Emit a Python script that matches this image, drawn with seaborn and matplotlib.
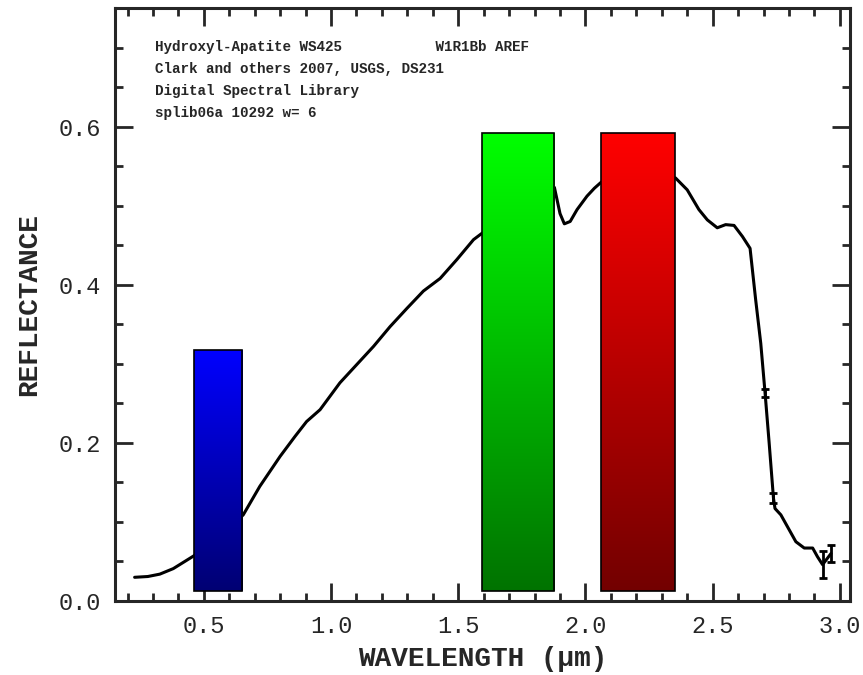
import numpy as np
import matplotlib
matplotlib.use('Agg')
import matplotlib.pyplot as plt
import seaborn as sns

# spectrum (wavelength in um, reflectance)
wave = [0.228, 0.28, 0.327, 0.38, 0.43, 0.46, 0.50, 0.55, 0.60, 0.655,
        0.72, 0.80, 0.858, 0.904, 0.957, 1.035, 1.101, 1.167, 1.232, 1.298,
        1.363, 1.429, 1.495, 1.560, 1.593, 1.65, 1.70, 1.75, 1.80, 1.85,
        1.878, 1.90, 1.917, 1.94, 1.967, 2.006, 2.035, 2.063, 2.12, 2.18,
        2.24, 2.30, 2.354, 2.40, 2.446, 2.479, 2.518, 2.551, 2.584, 2.617,
        2.647, 2.669, 2.689, 2.706, 2.722, 2.739, 2.745, 2.768, 2.794, 2.827,
        2.860, 2.893, 2.912, 2.932, 2.965]
refl = [0.030, 0.031, 0.034, 0.041, 0.051, 0.057, 0.066, 0.078, 0.092, 0.109,
        0.145, 0.183, 0.208, 0.227, 0.242, 0.276, 0.299, 0.322, 0.347, 0.370,
        0.392, 0.408, 0.432, 0.457, 0.465, 0.478, 0.490, 0.502, 0.512, 0.520,
        0.523, 0.490, 0.477, 0.480, 0.495, 0.512, 0.522, 0.530, 0.538, 0.542,
        0.542, 0.540, 0.535, 0.520, 0.495, 0.482, 0.472, 0.476, 0.475, 0.461,
        0.446, 0.381, 0.326, 0.263, 0.200, 0.130, 0.117, 0.109, 0.094, 0.075,
        0.067, 0.067, 0.056, 0.046, 0.060]

# points drawn with error bars
err_wave = [2.706, 2.739, 2.932, 2.965]
err_refl = [0.263, 0.130, 0.046, 0.060]
err_size = [0.005, 0.006, 0.017, 0.011]

# RGB band boxes
band_lo = [0.46, 1.594, 2.063]
band_hi = [0.65, 1.878, 2.350]
band_top = [0.318, 0.592, 0.592]
band_bottom = 0.013
band_top_col = [(0, 0, 1), (0, 1, 0), (1, 0, 0)]
band_bot_col = [(0, 0, 0.45), (0, 0.45, 0), (0.45, 0, 0)]

header = ['Hydroxyl-Apatite WS425           W1R1Bb AREF',
          'Clark and others 2007, USGS, DS231',
          'Digital Spectral Library',
          'splib06a 10292 w= 6']

sns.set_style('ticks')
plt.rcParams['font.family'] = ['Liberation Mono', 'DejaVu Sans Mono']

fig = plt.figure(figsize=(8.63, 6.75), dpi=100)
ax = fig.add_axes([0.133, 0.1096, 0.852, 0.8786])

sns.lineplot(x=wave, y=refl, sort=False, estimator=None, color='black',
             lw=2.2, ax=ax, zorder=2)
ax.errorbar(err_wave, err_refl, yerr=err_size, fmt='none', ecolor='black',
            elinewidth=2, capsize=3, capthick=2, zorder=2)

# gradient filled bands
for lo, hi, top, c_top, c_bot in zip(band_lo, band_hi, band_top, band_top_col, band_bot_col):
    bar = ax.bar(lo, top - band_bottom, width=hi - lo, bottom=band_bottom, align='edge',
                 facecolor='none', edgecolor='black', lw=1.2, zorder=4)[0]
    t = np.linspace(0, 1, 256)[:, None]
    grad = (1 - t) * np.array(c_top) + t * np.array(c_bot)
    im = ax.imshow(grad[:, None, :], extent=(lo, hi, band_bottom, top),
                   aspect='auto', origin='upper', zorder=3)
    im.set_clip_path(bar)

ax.set_xlim(0.15, 3.04)
ax.set_ylim(0, 0.75)
ax.set_xticks([0.5, 1.0, 1.5, 2.0, 2.5, 3.0])
ax.set_xticks(np.arange(0.2, 3.01, 0.1), minor=True)
ax.set_yticks([0.0, 0.2, 0.4, 0.6])
ax.set_yticks(np.arange(0.0, 0.751, 0.05), minor=True)
ax.set_xticklabels(['0.5', '1.0', '1.5', '2.0', '2.5', '3.0'])
ax.set_yticklabels(['0.0', '0.2', '0.4', '0.6'])

ax.tick_params(which='both', direction='in', top=True, right=True, width=2, labelsize=17)
ax.tick_params(which='major', length=13, pad=10)
ax.tick_params(which='minor', length=5.5)
for s in ax.spines.values():
    s.set_linewidth(2.2)
    s.set_visible(True)

ax.set_xlabel('WAVELENGTH (\u00b5m)', fontsize=20, fontweight='bold', labelpad=6)
ax.set_ylabel('REFLECTANCE', fontsize=20, fontweight='bold', labelpad=12)

for i, line in enumerate(header):
    ax.text(0.307, 0.701 - i * 0.0278, line, fontsize=10.3, fontweight='bold',
            va='center', ha='left')

fig.savefig('out.png', dpi=100)
